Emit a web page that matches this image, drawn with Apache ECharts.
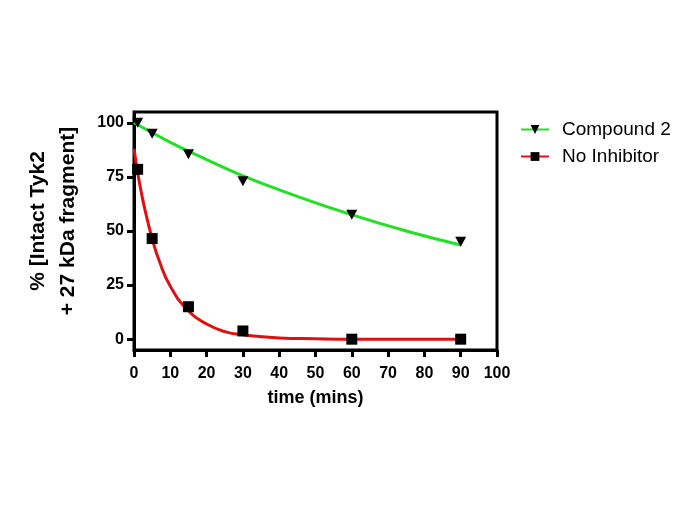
<!DOCTYPE html>
<html><head><meta charset="utf-8">
<script src="https://cdn.jsdelivr.net/npm/echarts@6/dist/echarts.min.js"></script>
<style>html,body{margin:0;padding:0;background:#fff}#c{width:685px;height:513px}</style>
</head><body><div id="c"></div>
<script>
// Measured points
const timePoints = [1, 5, 15, 30, 60, 90];
const compound2 = [100, 95, 85.5, 73, 57.5, 45];
const noInhibitor = [78.5, 46.5, 15, 3.8, 0, 0];
// Fitted curves
const greenCurveX = [0, 10, 20, 30, 45, 60, 75, 90];
const greenCurveY = [100, 91, 83, 75.5, 66, 57.5, 50, 43.5];
const redCurveX = [0, 1, 2, 3, 5, 7, 10, 15, 20, 25, 30, 40, 50, 60, 90];
const redCurveY = [88, 77, 68, 60, 46.5, 36, 24.5, 13, 7, 3.5, 2, 0.6, 0.2, 0, 0];
const yTicks = [0, 25, 50, 75, 100];

const pair = (xs, ys) => xs.map((x, i) => [x, ys[i]]);
const triDown = 'path://M0,0 L10,0 L5,9 Z';
const font = 'Liberation Sans, Arial, sans-serif';

const chart = echarts.init(document.getElementById('c'));
chart.setOption({
  animation: false,
  grid: { left: 134, right: 188, top: 112, bottom: 163, outerBoundsMode: 'none', containLabel: false,
          show: true, borderColor: '#000', borderWidth: 3, backgroundColor: 'transparent' },
  legend: {
    data: ['Compound 2', 'No Inhibitor'],
    left: 515, top: 115, orient: 'vertical', itemWidth: 28, itemHeight: 11, itemGap: 8,
    textStyle: { fontFamily: font, fontSize: 19, color: '#000', padding: [0, 0, 0, 8] }
  },
  xAxis: {
    type: 'value', min: 0, max: 100, interval: 10,
    name: 'time (mins)', nameLocation: 'middle', nameGap: 39,
    nameTextStyle: { fontFamily: font, fontSize: 18, fontWeight: 'bold', color: '#000' },
    axisLine: { onZero: false, lineStyle: { color: '#000', width: 3 } },
    axisTick: { length: 7, lineStyle: { color: '#000', width: 3 } },
    axisLabel: { fontFamily: font, fontSize: 16, fontWeight: 'bold', color: '#000', margin: 16 },
    splitLine: { show: false }
  },
  yAxis: {
    type: 'value', min: -5, max: 105,
    name: '% [Intact Tyk2\n+ 27 kDa fragment]', nameLocation: 'middle', nameGap: 51, nameRotate: 90,
    nameTextStyle: { fontFamily: font, fontSize: 21, fontWeight: 'bold', color: '#000', lineHeight: 30, padding: [0, 0, 0, 20] },
    axisLine: { onZero: false, lineStyle: { color: '#000', width: 3 } },
    axisTick: { length: 7, lineStyle: { color: '#000', width: 3 }, customValues: yTicks },
    axisLabel: { fontFamily: font, fontSize: 16, fontWeight: 'bold', color: '#000', margin: 10, customValues: yTicks },
    splitLine: { show: false }
  },
  series: [
    { name: 'Compound 2', type: 'line', smooth: true, data: pair(greenCurveX, greenCurveY),
      showSymbol: false, symbol: triDown, symbolSize: [11, 10],
      lineStyle: { color: '#22e022', width: 3 }, itemStyle: { color: '#000' }, z: 2 },
    { name: 'No Inhibitor', type: 'line', smooth: true, data: pair(redCurveX, redCurveY),
      showSymbol: false, symbol: 'rect', symbolSize: 10,
      lineStyle: { color: '#e01010', width: 3 }, itemStyle: { color: '#000' }, z: 2 },
    { name: 'c2pts', type: 'scatter', data: pair(timePoints, compound2), symbol: triDown, symbolSize: [11, 10],
      itemStyle: { color: '#000', opacity: 1 }, z: 5 },
    { name: 'nipts', type: 'scatter', data: pair(timePoints, noInhibitor), symbol: 'rect', symbolSize: 11,
      itemStyle: { color: '#000', opacity: 1 }, z: 5 }
  ]
});
</script></body></html>
